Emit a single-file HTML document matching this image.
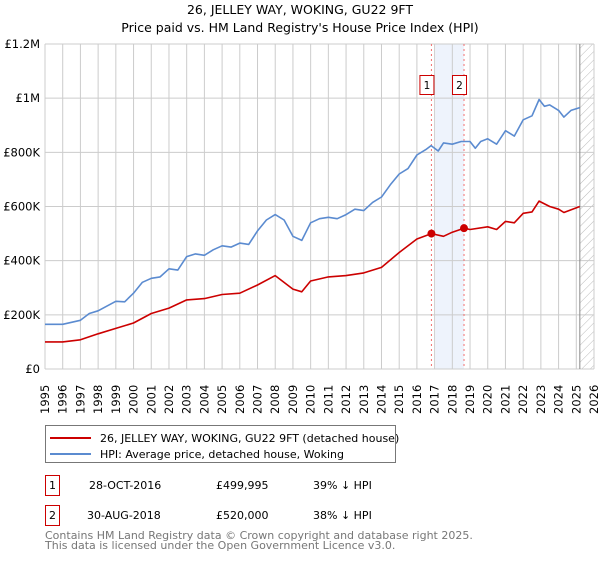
<!DOCTYPE html>
<html><head><meta charset="utf-8"><style>
body{margin:0;background:#fff;font-family:"Liberation Sans","DejaVu Sans",sans-serif;}
svg text{font-family:"DejaVu Sans","Liberation Sans",sans-serif;}
</style></head><body>
<svg width="600" height="560" xmlns="http://www.w3.org/2000/svg">
<defs><pattern id="hatch" width="6" height="6" patternUnits="userSpaceOnUse" patternTransform="rotate(45)"><line x1="0" y1="0" x2="0" y2="6" stroke="#bbb" stroke-width="1"/></pattern></defs>
<text x="300" y="14" text-anchor="middle" font-size="12.5">26, JELLEY WAY, WOKING, GU22 9FT</text>
<text x="300" y="32" text-anchor="middle" font-size="12.5">Price paid vs. HM Land Registry's House Price Index (HPI)</text>
<g id="grid"></g>
<g id="marks"></g>
<g id="legend">
<rect x="45.5" y="425.5" width="350" height="37" fill="#fff" stroke="#777"/>
<line x1="50" y1="438" x2="91" y2="438" stroke="#cc0000" stroke-width="2"/>
<text x="100" y="442" font-size="11">26, JELLEY WAY, WOKING, GU22 9FT (detached house)</text>
<line x1="50" y1="454" x2="91" y2="454" stroke="#5b8bd0" stroke-width="2"/>
<text x="100" y="458" font-size="11">HPI: Average price, detached house, Woking</text>
</g>
<g>
<rect x="45.5" y="475.5" width="14" height="20" fill="#fff" stroke="#cc0000"/>
<text x="52.5" y="489" font-size="11" text-anchor="middle">1</text>
<text x="89" y="489" font-size="11">28-OCT-2016</text>
<text x="216" y="489" font-size="11">£499,995</text>
<text x="313" y="489" font-size="11">39% ↓ HPI</text>
</g>
<g>
<rect x="45.5" y="505.5" width="14" height="20" fill="#fff" stroke="#cc0000"/>
<text x="52.5" y="519" font-size="11" text-anchor="middle">2</text>
<text x="87" y="519" font-size="11">30-AUG-2018</text>
<text x="216" y="519" font-size="11">£520,000</text>
<text x="313" y="519" font-size="11">38% ↓ HPI</text>
</g>
<text x="45" y="539" font-size="11" fill="#777">Contains HM Land Registry data © Crown copyright and database right 2025.</text>
<text x="45" y="549" font-size="11" fill="#777">This data is licensed under the Open Government Licence v3.0.</text>
</svg>
<script>
const years=[1995,1996,1997,1998,1999,2000,2001,2002,2003,2004,2005,2006,2007,2008,2009,2010,2011,2012,2013,2014,2015,2016,2017,2018,2019,2020,2021,2022,2023,2024,2025,2026];
const yTicks=[0,200000,400000,600000,800000,1000000,1200000];
const yTickLabels=["£0","£200K","£400K","£600K","£800K","£1M","£1.2M"];
const hpiT=[1995,1996,1997,1997.5,1998,1999,1999.5,2000,2000.5,2001,2001.5,2002,2002.5,2003,2003.5,2004,2004.5,2005,2005.5,2006,2006.5,2007,2007.5,2008,2008.5,2009,2009.5,2010,2010.5,2011,2011.5,2012,2012.5,2013,2013.5,2014,2014.5,2015,2015.5,2016,2016.5,2016.8,2017.2,2017.5,2018,2018.5,2019,2019.3,2019.6,2020,2020.5,2021,2021.5,2022,2022.5,2022.9,2023.2,2023.5,2024,2024.3,2024.7,2025.2];
const hpiV=[165,165,180,205,215,250,248,280,320,335,340,370,365,415,425,420,440,455,450,465,460,510,550,570,550,490,475,540,555,560,555,570,590,585,615,635,680,720,740,790,810,825,805,835,830,840,840,815,840,850,830,880,860,920,935,995,970,975,955,930,955,965];
const priceT=[1995,1996,1997,1998,1999,2000,2001,2002,2003,2004,2005,2006,2007,2008,2009,2009.5,2010,2011,2012,2013,2014,2015,2016,2016.82,2017.5,2018,2018.66,2019,2020,2020.5,2021,2021.5,2022,2022.5,2022.9,2023.5,2024,2024.3,2025.2];
const priceV=[100,100,108,130,150,170,205,225,255,260,275,280,310,345,295,285,325,340,345,355,375,430,480,500,490,505,520,515,525,515,545,540,575,580,620,600,590,578,600];
const saleT=[2016.82,2018.66];
const saleV=[499995,520000];
const saleLabels=["1","2"];
const X0=45,X1=594,Y0=369,Y1=44;
const xs=t=>X0+(t-1995)/(2026-1995)*(X1-X0);
const ys=v=>Y0-v/1200000*(Y0-Y1);
const NS="http://www.w3.org/2000/svg";
const grid=document.getElementById('grid'),marks=document.getElementById('marks');
function mk(tag,attrs,parent){const e=document.createElementNS(NS,tag);for(const k in attrs)e.setAttribute(k,attrs[k]);parent.appendChild(e);return e;}
let r=mk('rect',{x:xs(saleT[0])+4,y:Y1,width:xs(saleT[1])-xs(saleT[0])-4,height:Y0-Y1,fill:'#eef3fc'},grid);


let h=mk('rect',{x:xs(2025.2),y:Y1,width:X1-xs(2025.2),height:Y0-Y1,fill:'url(#hatch)'},grid);


years.forEach(y=>{
 const l=mk('line',{x1:xs(y),x2:xs(y),y1:Y1,y2:Y0,stroke:'#ccc'},grid);
 
 
 const t=mk('text',{transform:`translate(${xs(y)+4},${Y0+45}) rotate(-90)`,'font-size':'11.5'},grid);
 t.textContent=y;
 
 
});
yTicks.forEach((v,i)=>{
 const l=mk('line',{x1:X0,x2:X1,y1:ys(v),y2:ys(v),stroke:'#ccc'},grid);
 
 
 const t=mk('text',{x:X0-5,y:ys(v)+4,'text-anchor':'end','font-size':'11.5'},grid);
 t.textContent=yTickLabels[i];
 
 
});
const nl=mk('line',{x1:xs(2025.2),x2:xs(2025.2),y1:Y1,y2:Y0,stroke:'#888'},grid);


saleT.forEach((t,i)=>{
 const l=mk('line',{x1:xs(t),x2:xs(t),y1:Y1,y2:Y0,stroke:'#f07070','stroke-dasharray':'2,3'},marks);
 
 
 const b=mk('rect',{x:xs(t)-11.5,y:75.5,width:14,height:19,fill:'#fff',stroke:'#cc0000'},marks);
 
 
 const tx=mk('text',{x:xs(t)-4.5,y:89,'text-anchor':'middle','font-size':'10.5'},marks);
 tx.textContent=saleLabels[i];
 
 
});
function path(T,V,color,name){
 const d=T.map((t,i)=>(i?'L':'M')+xs(t).toFixed(1)+','+ys(V[i]*1000).toFixed(1)).join(' ');
 const p=mk('path',{d:d,fill:'none',stroke:color,'stroke-width':1.6,'stroke-linejoin':'round'},marks);
 
 
}
path(hpiT,hpiV,'#5b8bd0','hpi-line');
path(priceT,priceV,'#cc0000','price-line');
saleT.forEach((t,i)=>{
 const c=mk('circle',{cx:xs(t),cy:ys(saleV[i]),r:4,fill:'#cc0000'},marks);
 
 
});
</script>
</body></html>
